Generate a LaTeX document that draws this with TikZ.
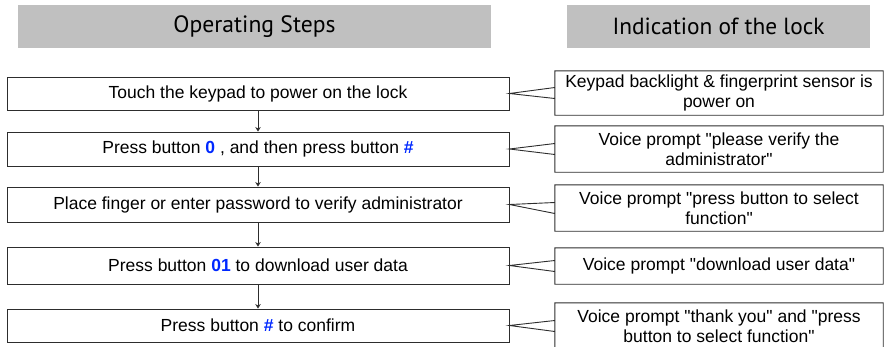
\documentclass[tikz,border=0pt]{standalone}
\usepackage{fontspec}
\setmainfont{Liberation Sans}
\newfontfamily\hdrfont{PT Sans}
\usetikzlibrary{arrows.meta}
\definecolor{hdrgray}{RGB}{192,192,192}
\definecolor{keyblue}{RGB}{0,40,255}
\definecolor{linegray}{RGB}{45,45,45}
\newcommand{\kb}[1]{\textcolor{keyblue}{\textbf{#1}}}
\newcommand{\qq}{\textquotedbl}
\begin{document}
\begin{tikzpicture}[x=1pt,y=-1pt,
  hdr/.style={fill=hdrgray,draw=none,inner sep=0pt,minimum height=43pt,
    font=\hdrfont\fontsize{24}{28}\selectfont},
  stepbox/.style={draw=linegray,line width=0.9pt,inner sep=0pt,minimum width=502pt,
    font=\fontsize{17.5}{20}\selectfont},
  callbox/.style={inner sep=0pt,minimum width=328pt,align=center,
    font=\fontsize{17.5}{20.5}\selectfont},
  tail/.style={draw=linegray,line width=0.9pt,line join=miter},
  flow/.style={draw=linegray,line width=0.9pt,-{Stealth[length=4.5pt,width=5.5pt]}}]
\useasboundingbox (0,0) rectangle (884,346);
\clip (0,0) rectangle (884,346);
% headers
\node[hdr,minimum width=473pt] (h1) at (254.5,26.5) {\resizebox{162pt}{!}{Operating Steps}};
\node[hdr,minimum width=303pt] (h2) at (718.5,26.5) {\resizebox{212pt}{!}{Indication of the lock}};
% step boxes
\node[stepbox,minimum height=33pt] (b1) at (258,93.5) {Touch the keypad to power on the lock};
\node[stepbox,minimum height=34pt] (b2) at (258,149) {Press button \kb{0} , and then press button \kb{\#}};
\node[stepbox,minimum height=35pt] (b3) at (258,204.5) {Place finger or enter password to verify administrator};
\node[stepbox,minimum height=37pt] (b4) at (258,265.5) {Press button \kb{01} to download user data};
\node[stepbox,minimum height=33pt] (b5) at (258,325.5) {Press button \kb{\#} to confirm};
% arrows
\draw[flow] (b1.south) -- (b2.north);
\draw[flow] (b2.south) -- (b3.north);
\draw[flow] (b3.south) -- (b4.north);
\draw[flow] (b4.south) -- (b5.north);
% callouts
\node[callbox,minimum height=44pt] (c1) at (719,93) {Keypad backlight \& fingerprint sensor is\\power on};
\node[callbox,minimum height=46pt] (c2) at (719,149) {Voice prompt \qq please verify the\\administrator\qq};
\node[callbox,minimum height=46pt] (c3) at (719,208) {Voice prompt \qq press button to select\\function\qq};
\node[callbox,minimum height=36pt] (c4) at (719,266) {Voice prompt \qq download user data\qq};
\node[callbox,minimum height=46pt] (c5) at (719,326) {Voice prompt \qq thank you\qq{} and \qq press\\button to select function\qq};
\foreach \c/\b in {c1/b1,c2/b2,c3/b3,c4/b4,c5/b5}{
  \draw[tail] ([yshift=5.5pt]\c.west) -- (\c.south west) -- (\c.south east) -- (\c.north east)
    -- (\c.north west) -- ([yshift=-5.5pt]\c.west) -- (\b.east) -- cycle;
}
\end{tikzpicture}
\end{document}
